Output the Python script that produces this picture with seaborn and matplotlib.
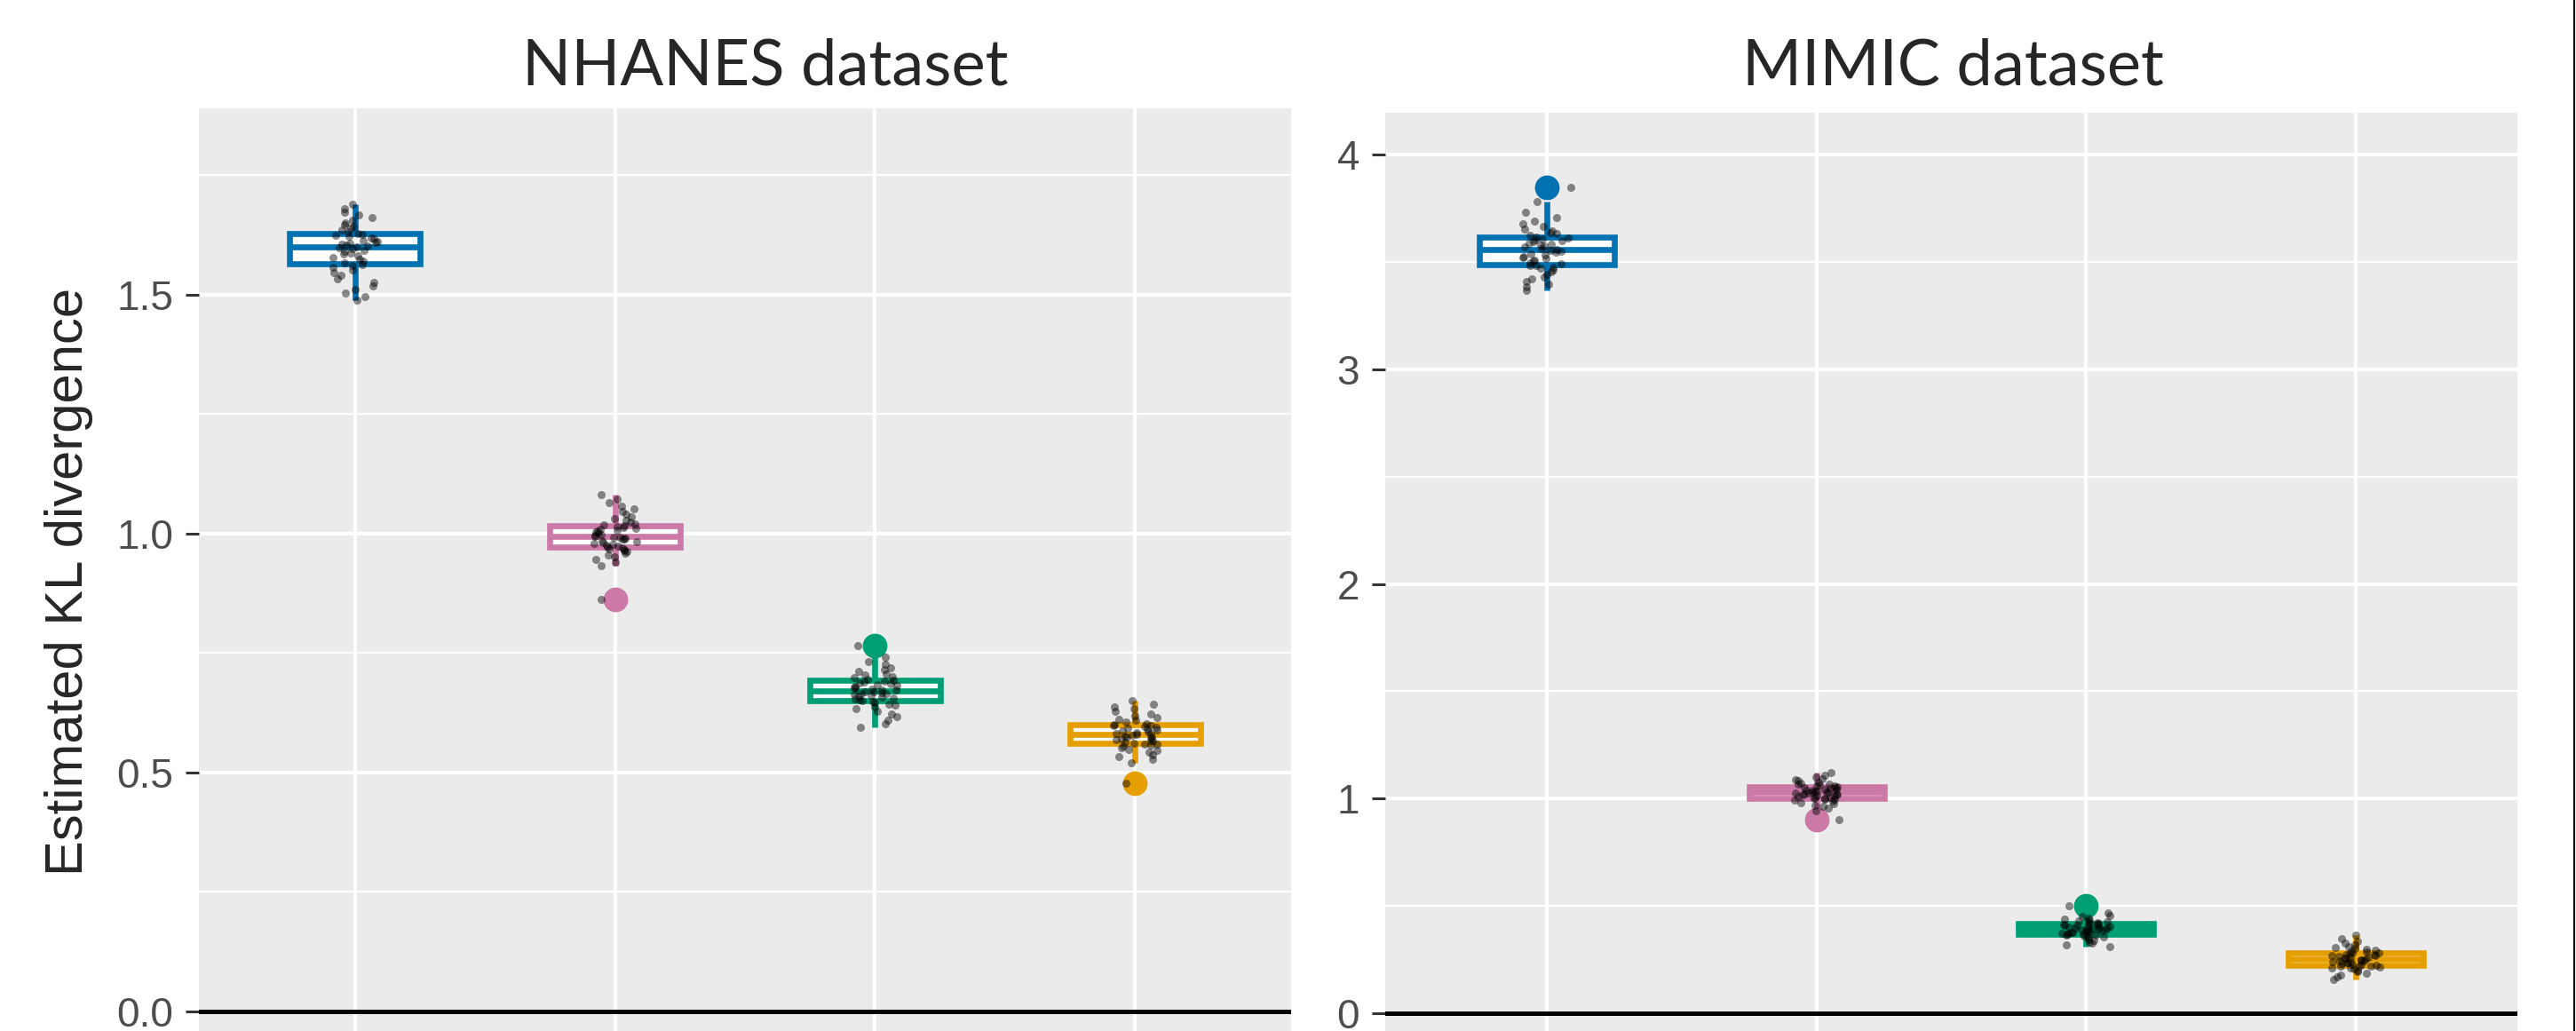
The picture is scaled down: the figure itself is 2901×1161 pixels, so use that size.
import numpy as np
import pandas as pd
import matplotlib.pyplot as plt
import seaborn as sns
from matplotlib.lines import Line2D

methods = ["M1", "M2", "M3", "M4"]
colors = ["#0072B2", "#CC79A7", "#009E73", "#E69F00"]

# estimated KL divergence per method, NHANES
nhanes_m1 = [1.488, 1.496, 1.503, 1.511, 1.519, 1.526, 1.534, 1.541, 1.547, 1.552, 1.557, 1.561,
             1.564, 1.567, 1.571, 1.574, 1.578, 1.581, 1.585, 1.588, 1.591, 1.593, 1.596, 1.598, 1.600,
             1.602, 1.604, 1.606, 1.608, 1.610, 1.612, 1.614, 1.617, 1.619, 1.622, 1.625, 1.627,
             1.629, 1.632, 1.636, 1.640, 1.643, 1.647, 1.651, 1.656, 1.661, 1.667, 1.673, 1.681, 1.690]
nhanes_m2 = [0.863, 0.933, 0.940, 0.946, 0.951, 0.955, 0.959, 0.962, 0.965, 0.967, 0.969, 0.971,
             0.972, 0.974, 0.976, 0.978, 0.980, 0.982, 0.984, 0.986, 0.988, 0.989, 0.991, 0.992, 0.993,
             0.995, 0.997, 0.999, 1.001, 1.003, 1.005, 1.007, 1.009, 1.011, 1.013, 1.015, 1.016,
             1.018, 1.021, 1.024, 1.028, 1.032, 1.036, 1.041, 1.046, 1.052, 1.058, 1.065, 1.073, 1.082]
nhanes_m3 = [0.595, 0.603, 0.610, 0.617, 0.623, 0.628, 0.633, 0.637, 0.641, 0.644, 0.646, 0.648,
             0.650, 0.652, 0.654, 0.656, 0.658, 0.660, 0.662, 0.664, 0.665, 0.666, 0.668, 0.669, 0.670,
             0.672, 0.673, 0.675, 0.676, 0.678, 0.680, 0.682, 0.684, 0.686, 0.688, 0.690, 0.691,
             0.693, 0.695, 0.698, 0.701, 0.704, 0.707, 0.711, 0.715, 0.720, 0.726, 0.733, 0.742, 0.766]
nhanes_m4 = [0.477, 0.520, 0.527, 0.533, 0.538, 0.542, 0.546, 0.549, 0.552, 0.555, 0.557, 0.559,
             0.560, 0.562, 0.564, 0.566, 0.567, 0.569, 0.571, 0.572, 0.574, 0.575, 0.577, 0.578, 0.579,
             0.581, 0.582, 0.584, 0.585, 0.587, 0.589, 0.591, 0.592, 0.594, 0.596, 0.598, 0.599,
             0.601, 0.603, 0.606, 0.609, 0.612, 0.615, 0.619, 0.623, 0.628, 0.633, 0.638, 0.644, 0.651]

# estimated KL divergence per method, MIMIC
mimic_m1 = [3.368, 3.382, 3.395, 3.408, 3.420, 3.431, 3.442, 3.452, 3.461, 3.469, 3.476, 3.481,
            3.484, 3.490, 3.496, 3.502, 3.508, 3.514, 3.520, 3.526, 3.532, 3.538, 3.544, 3.549, 3.554,
            3.558, 3.563, 3.568, 3.573, 3.578, 3.583, 3.588, 3.593, 3.598, 3.603, 3.608, 3.613,
            3.617, 3.623, 3.630, 3.637, 3.645, 3.654, 3.664, 3.676, 3.690, 3.707, 3.730, 3.782, 3.848]
mimic_m2 = [0.900, 0.945, 0.955, 0.963, 0.970, 0.976, 0.982, 0.987, 0.991, 0.995, 0.998, 1.000,
            1.002, 1.005, 1.007, 1.010, 1.012, 1.014, 1.017, 1.019, 1.021, 1.023, 1.025, 1.026, 1.028,
            1.030, 1.032, 1.034, 1.036, 1.038, 1.040, 1.042, 1.044, 1.047, 1.050, 1.052, 1.055,
            1.057, 1.060, 1.063, 1.066, 1.069, 1.073, 1.077, 1.082, 1.087, 1.093, 1.100, 1.110, 1.121]
mimic_m3 = [0.310, 0.318, 0.326, 0.333, 0.339, 0.345, 0.350, 0.354, 0.358, 0.361, 0.364, 0.366,
            0.368, 0.370, 0.372, 0.374, 0.376, 0.378, 0.380, 0.382, 0.384, 0.386, 0.388, 0.389, 0.391,
            0.393, 0.395, 0.397, 0.399, 0.401, 0.403, 0.405, 0.407, 0.409, 0.411, 0.413, 0.415,
            0.417, 0.419, 0.422, 0.425, 0.428, 0.431, 0.435, 0.439, 0.444, 0.450, 0.457, 0.466, 0.500]
mimic_m4 = [0.157, 0.168, 0.178, 0.187, 0.194, 0.200, 0.205, 0.209, 0.213, 0.216, 0.218, 0.220,
            0.221, 0.224, 0.226, 0.229, 0.231, 0.234, 0.236, 0.239, 0.241, 0.244, 0.246, 0.248, 0.250,
            0.252, 0.255, 0.257, 0.260, 0.262, 0.265, 0.267, 0.270, 0.272, 0.275, 0.278, 0.281,
            0.283, 0.286, 0.289, 0.292, 0.296, 0.300, 0.305, 0.311, 0.318, 0.326, 0.336, 0.348, 0.364]

nhanes_ticks = [0.0, 0.5, 1.0, 1.5]
nhanes_ticklabels = ["0.0", "0.5", "1.0", "1.5"]
mimic_ticks = [0, 1, 2, 3, 4]
mimic_ticklabels = ["0", "1", "2", "3", "4"]

sns.set_style("white")
plt.rcParams["font.family"] = ["Liberation Sans", "DejaVu Sans"]
np.random.seed(3)


def make_frame(groups):
    return pd.DataFrame({
        "method": np.repeat(methods, [len(g) for g in groups]),
        "kl": np.concatenate(groups),
    })


def draw_panel(ax, df, ylim, ticks, ticklabels):
    ax.set_facecolor("#EBEBEB")
    for m, c in zip(methods, colors):
        sns.boxplot(data=df[df["method"] == m], x="method", y="kl", order=methods, ax=ax,
                    width=0.5, color=c, linecolor=c, linewidth=4.8, showcaps=False,
                    boxprops={"facecolor": "white"},
                    flierprops={"marker": "o", "markerfacecolor": c, "markeredgecolor": c,
                                "markersize": 19, "markeredgewidth": 1})
    sns.stripplot(data=df, x="method", y="kl", order=methods, ax=ax, color="black",
                  alpha=0.45, size=6.5, jitter=0.09, linewidth=0, zorder=4)
    ax.axhline(0, color="black", lw=3.6, zorder=3)

    ax.set_yticks(ticks)
    ax.set_yticklabels(ticklabels)
    minor = [(a + b) / 2 for a, b in zip(ticks[:-1], ticks[1:])]
    minor.append(ticks[-1] + (ticks[1] - ticks[0]) / 2)
    ax.set_yticks(minor, minor=True)
    ax.set_xlim(-0.6, 3.6)
    ax.set_ylim(*ylim)
    ax.set_axisbelow(True)
    ax.grid(which="major", color="white", lw=3)
    ax.grid(which="minor", axis="y", color="white", lw=1.6)
    ax.tick_params(axis="y", which="major", length=10.8, width=2.2, color="#333333",
                   labelsize=33, labelcolor="#4D4D4D", pad=10, left=True)
    ax.tick_params(axis="y", which="minor", length=0)
    ax.tick_params(axis="x", length=0, labelbottom=False)
    ax.set_xlabel("")
    ax.set_ylabel("")
    for s in ax.spines.values():
        s.set_visible(False)


fig = plt.figure(figsize=(29.01, 11.61), dpi=100)
ax1 = fig.add_axes([224 / 2901, 0, 1230 / 2901, 1039 / 1161])
ax2 = fig.add_axes([1560 / 2901, 0, 1275 / 2901, 1034 / 1161])

draw_panel(ax1, make_frame([nhanes_m1, nhanes_m2, nhanes_m3, nhanes_m4]),
           (-0.0409, 1.8903), nhanes_ticks, nhanes_ticklabels)
draw_panel(ax2, make_frame([mimic_m1, mimic_m2, mimic_m3, mimic_m4]),
           (-0.0827, 4.1944), mimic_ticks, mimic_ticklabels)

fig.text(862 / 2901, 1 - 95 / 1161, "NHANES dataset", ha="center", va="baseline",
         fontsize=52, family=["Lato", "DejaVu Sans"])
fig.text(2199 / 2901, 1 - 95 / 1161, "MIMIC dataset", ha="center", va="baseline",
         fontsize=52, family=["Lato", "DejaVu Sans"])
fig.text(78 / 2901, 1 - 655 / 1161, "Estimated KL divergence", rotation=90,
         ha="center", va="center", fontsize=43)

fig.add_artist(Line2D([2899 / 2901, 2899 / 2901], [0, 1], color="black", lw=1.5))

fig.savefig("out.png", dpi=100, facecolor="white")
